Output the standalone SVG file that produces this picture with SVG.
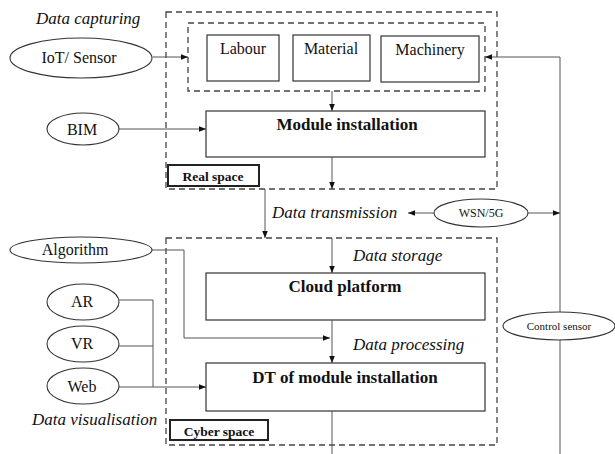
<svg xmlns="http://www.w3.org/2000/svg" width="615" height="454" viewBox="0 0 615 454">
<style>
.dash{fill:none;stroke:#444;stroke-width:1.3;stroke-dasharray:6,4}
.box{fill:#fff;stroke:#333;stroke-width:1.2}
.ell{fill:#fff;stroke:#333;stroke-width:1.1}
.lbl{fill:#fff;stroke:#222;stroke-width:2}
.ln{fill:none;stroke:#555;stroke-width:1}
text{font-family:'Liberation Serif','Times New Roman',serif;fill:#111;text-anchor:middle}
.b{font-weight:bold}
.i{font-style:italic;text-anchor:start}
</style>
<defs>
<marker id="ah" viewBox="0 0 10 10" refX="10" refY="5" markerWidth="7" markerHeight="7" orient="auto" markerUnits="userSpaceOnUse">
<path d="M0,1 L10,5 L0,9 z" fill="#111"/>
</marker>
</defs>
<rect width="615" height="454" fill="#fff"/>

<g id="real-space">
<rect class="dash" x="166" y="12" width="331" height="177"/>
<rect class="lbl" x="168" y="165" width="91" height="21"/>
<text class="b" x="213" y="181" font-size="13.5">Real space</text>
</g>
<g id="resources">
<rect class="dash" x="188" y="23" width="297" height="68"/>
</g>
<g id="labour"><rect class="box" x="207" y="35" width="72" height="46"/><text x="243" y="54" font-size="16">Labour</text></g>
<g id="material"><rect class="box" x="293" y="35" width="77" height="46"/><text x="331" y="54" font-size="16">Material</text></g>
<g id="machinery"><rect class="box" x="381" y="36" width="98" height="46"/><text x="430" y="55" font-size="16">Machinery</text></g>
<g id="module-installation"><rect class="box" x="206" y="111" width="279" height="46"/><text class="b" x="347" y="130" font-size="17">Module installation</text></g>

<g id="cyber-space">
<rect class="dash" x="166" y="238" width="331" height="207"/>
<rect class="lbl" x="170" y="420" width="98" height="20"/>
<text class="b" x="219" y="436" font-size="13.5">Cyber space</text>
</g>
<g id="cloud-platform"><rect class="box" x="206" y="273" width="279" height="47"/><text class="b" x="345" y="292" font-size="17">Cloud platform</text></g>
<g id="dt"><rect class="box" x="206" y="363" width="279" height="48"/><text class="b" x="345" y="383" font-size="17">DT of module installation</text></g>

<g id="connectors">
<line class="ln" x1="153" y1="57" x2="188" y2="57" marker-end="url(#ah)"/>
<line class="ln" x1="119" y1="129" x2="206" y2="129" marker-end="url(#ah)"/>
<line class="ln" x1="332" y1="91" x2="332" y2="111" marker-end="url(#ah)"/>
<line class="ln" x1="332" y1="157" x2="332" y2="189" marker-end="url(#ah)"/>
<line class="ln" x1="265" y1="189" x2="265" y2="238" marker-end="url(#ah)"/>
<line class="ln" x1="434" y1="213" x2="408" y2="213" marker-end="url(#ah)"/>
<line class="ln" x1="528" y1="213" x2="560" y2="213" marker-end="url(#ah)"/>
<line class="ln" x1="560" y1="454" x2="560" y2="57"/>
<line class="ln" x1="560" y1="57" x2="485" y2="57" marker-end="url(#ah)"/>
<line class="ln" x1="332" y1="238" x2="332" y2="273" marker-end="url(#ah)"/>
<line class="ln" x1="332" y1="320" x2="332" y2="363" marker-end="url(#ah)"/>
<line class="ln" x1="332" y1="411" x2="332" y2="454"/>
<polyline class="ln" points="152,250 184,250 184,338 330,338" marker-end="url(#ah)"/>
<polyline class="ln" points="119,300 153,300 153,387"/>
<line class="ln" x1="119" y1="346" x2="153" y2="346"/>
<line class="ln" x1="119" y1="387" x2="206" y2="387" marker-end="url(#ah)"/>
</g>

<g id="iot-sensor"><ellipse class="ell" cx="81" cy="58" rx="71" ry="20"/><text x="79" y="63" font-size="16">IoT/ Sensor</text></g>
<g id="bim"><ellipse class="ell" cx="83" cy="129" rx="36" ry="16"/><text x="82" y="135" font-size="16">BIM</text></g>
<g id="wsn"><ellipse class="ell" cx="481" cy="213" rx="47" ry="14"/><text x="481" y="217" font-size="12">WSN/5G</text></g>
<g id="algorithm"><ellipse class="ell" cx="81" cy="250" rx="71" ry="13"/><text x="75" y="255" font-size="16">Algorithm</text></g>
<g id="ar"><ellipse class="ell" cx="83" cy="302" rx="36" ry="18"/><text x="82" y="307" font-size="16">AR</text></g>
<g id="vr"><ellipse class="ell" cx="83" cy="344" rx="36" ry="18"/><text x="82" y="349" font-size="16">VR</text></g>
<g id="web"><ellipse class="ell" cx="83" cy="386" rx="36" ry="18"/><text x="82" y="392" font-size="16">Web</text></g>
<g id="control-sensor"><ellipse class="ell" cx="559" cy="326" rx="56" ry="14"/><text x="559" y="330" font-size="11">Control sensor</text></g>

<g id="labels">
<text class="i" x="36" y="24" font-size="17">Data capturing</text>
<text class="i" x="272" y="218" font-size="17">Data transmission</text>
<text class="i" x="353" y="261" font-size="17">Data storage</text>
<text class="i" x="353" y="350" font-size="17">Data processing</text>
<text class="i" x="32" y="425" font-size="17">Data visualisation</text>
</g>
</svg>
